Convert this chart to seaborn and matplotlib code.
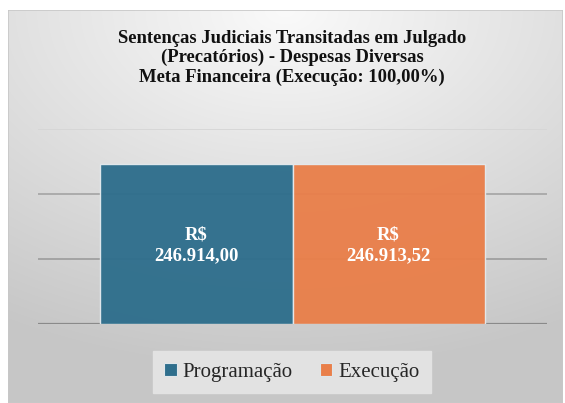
import numpy as np
import pandas as pd
import matplotlib
matplotlib.use("Agg")
import matplotlib.pyplot as plt
import seaborn as sns
from matplotlib.patches import Rectangle

# ---- data ----
categories = ["Meta Financeira"]
series = ["Programação", "Execução"]
values = [246914.00, 246913.52]
labels = ["R$\n246.914,00", "R$\n246.913,52"]
colors = ["#2E6E8C", "#E97F4A"]
title = ("Sentenças Judiciais Transitadas em Julgado\n"
         "(Precatórios) - Despesas Diversas\n"
         "Meta Financeira (Execução: 100,00%)")

df = pd.DataFrame({"cat": categories * len(series), "serie": series, "valor": values})

sns.set_theme(style="white")
plt.rcParams["font.family"] = ["Liberation Serif", "DejaVu Serif"]

W, H = 565, 403
fig = plt.figure(figsize=(W / 100, H / 100), dpi=100)
fig.patch.set_facecolor("white")

# background gradient panel (chart area)
bg = fig.add_axes([8 / W, 0, (W - 10) / W, (H - 10) / H])
bg.set_axis_off()
yy, xx = np.mgrid[0:1:200j, 0:1:300j]
d = np.sqrt(((xx - 0.5) * 1.0) ** 2 + ((yy - 1.0) * 1.1) ** 2)
d = np.clip(d / 1.0, 0, 1)
g = 0.98 - 0.2 * d
img = np.dstack([g, g, g])
bg.imshow(img, origin="lower", extent=[0, 1, 0, 1], aspect="auto", interpolation="bicubic")
bg.set_xlim(0, 1)
bg.set_ylim(0, 1)
bg.add_patch(Rectangle((0, 0), 1, 1, fill=False, edgecolor="#c8c8c8", lw=1.2, transform=bg.transAxes))

ax = fig.add_axes([38 / W, 1 - 324 / H, (547 - 38) / W, (324 - 129) / H])
ax.set_facecolor("none")
sns.barplot(data=df, x="cat", y="valor", hue="serie", hue_order=series,
            palette=colors, saturation=1, width=0.755, ax=ax, alpha=0.96,
            edgecolor="#e4eaee", linewidth=1.0, legend=True, zorder=3)
ax.set_ylim(0, 300000)
ax.set_xlim(-0.5, 0.5)
ax.set_yticks([0, 100000, 200000, 300000])
ax.set_yticklabels([])
ax.set_xticks([])
ax.set_xlabel("")
ax.set_ylabel("")
ax.tick_params(left=False, bottom=False)
for s in ax.spines.values():
    s.set_visible(False)
ax.yaxis.grid(True, zorder=0)
ax.set_axisbelow(True)
gl = ax.get_ygridlines()
gcols = ["#8a8a8a", "#a0a0a0", "#a8a8a8", "#d6d6d6"]
gw = [1.6, 1.3, 1.3, 1.3]
for line, c, w in zip(gl, gcols, gw):
    line.set_color(c)
    line.set_linewidth(w)

for cont, lab in zip(ax.containers, labels):
    for bar in cont:
        ax.text(bar.get_x() + bar.get_width() / 2, bar.get_height() * 0.49, lab,
                ha="center", va="center", color="white", fontsize=13.5,
                fontweight="bold", linespacing=1.25, zorder=5)

leg = ax.get_legend()
if leg is not None:
    leg.remove()
handles = [Rectangle((0, 0), 1, 1, facecolor=c, edgecolor="#dfe6ea", lw=0.8) for c in colors]
fig.legend(handles, series, loc="center", bbox_to_anchor=(292 / W, 1 - 372 / H),
           ncol=2, frameon=True, fontsize=15, handlelength=0.6, handleheight=0.6,
           handletextpad=0.3, columnspacing=1.3, facecolor="#e2e2e2", edgecolor="#e2e2e2",
           fancybox=False, borderpad=0.55, framealpha=1.0)

fig.text(292 / W, 1 - 58 / H, title, ha="center", va="center", fontsize=13.4,
         fontweight="bold", linespacing=1.17, color="#111111")

fig.savefig("out.png", dpi=100)
